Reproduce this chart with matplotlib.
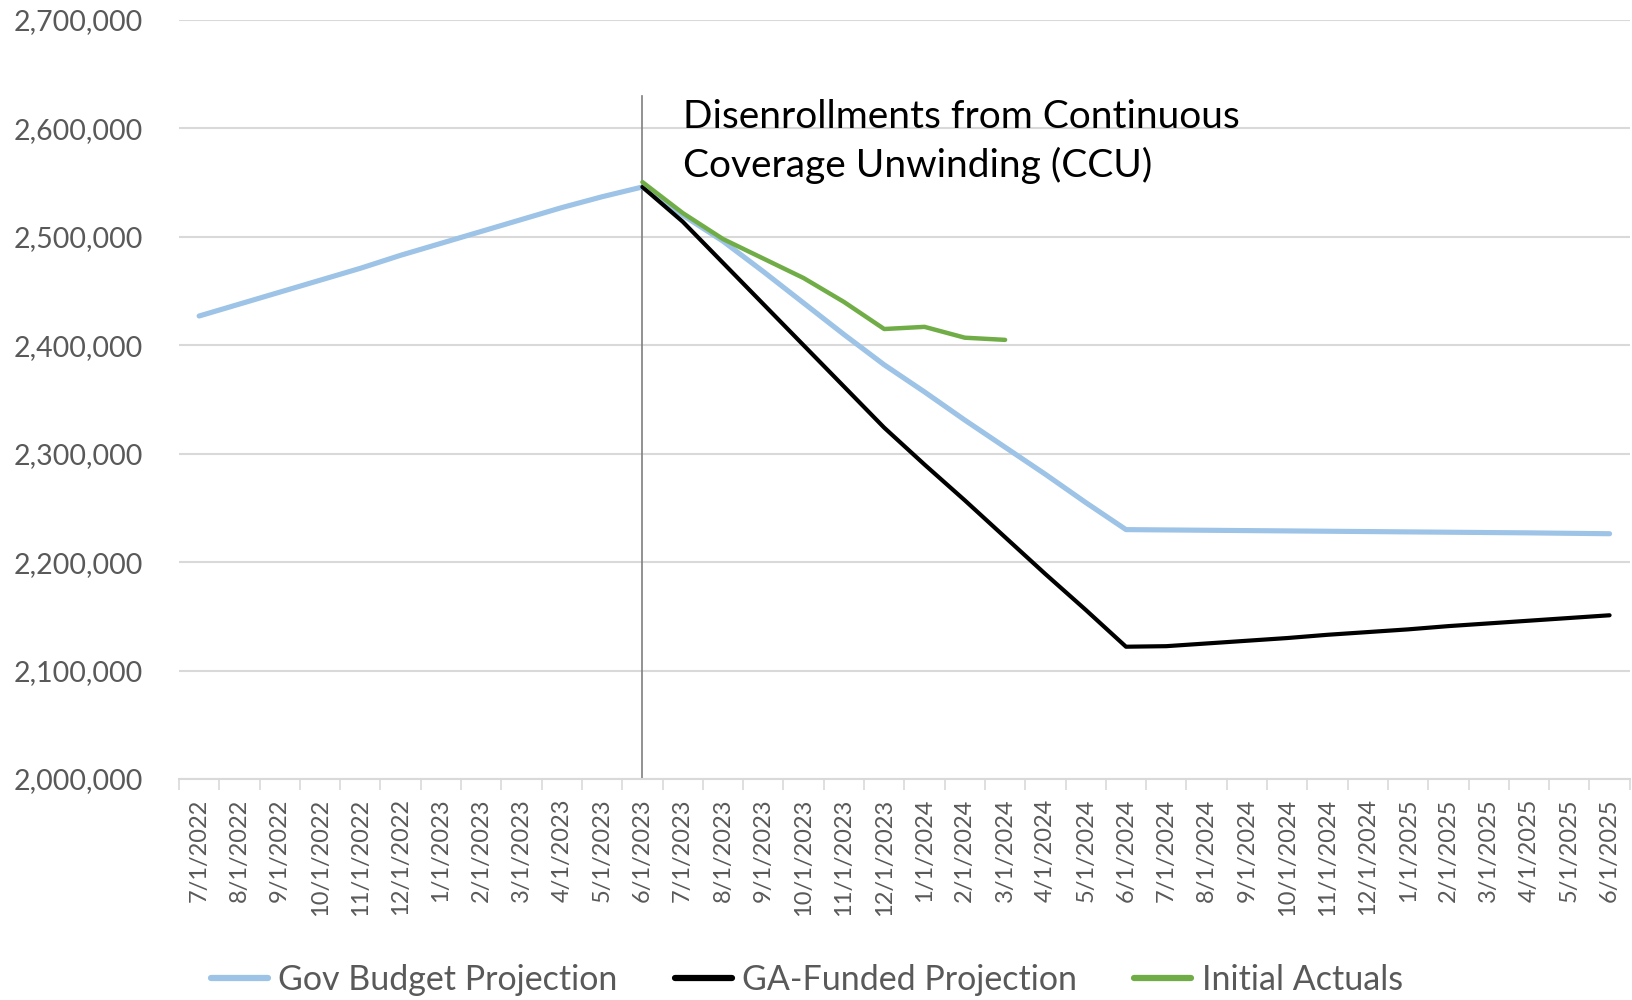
import numpy as np
import matplotlib
matplotlib.use('Agg')
import matplotlib.pyplot as plt
from matplotlib.ticker import FuncFormatter

# monthly categories, 7/1/2022 .. 6/1/2025
months = []
for i in range(36):
    m = (7 + i - 1) % 12 + 1
    y = 2022 + (7 + i - 1) // 12
    months.append('%d/1/%d' % (m, y))

gov_budget = [2427000, 2438000, 2449000, 2460000, 2471000, 2483000, 2494000, 2505000,
              2516000, 2527000, 2537000, 2546000, 2520000, 2496000, 2468000, 2439000,
              2410000, 2382000, 2357000, 2331000, 2306000, 2281000, 2255000, 2230000,
              2229700, 2229400, 2229100, 2228800, 2228500, 2228200, 2227900, 2227600,
              2227300, 2227000, 2226600, 2226200]
ga_funded = [None] * 11 + [2546000, 2514000, 2476000, 2438000, 2400000, 2362000, 2324000,
                           2290000, 2257000, 2223000, 2189000, 2156000, 2122000,
                           2122500, 2125000, 2127500, 2130000, 2133000, 2135500,
                           2138000, 2141000, 2143500, 2146000, 2148500, 2151000]
# actuals only reported through 3/1/2024
actuals = [None] * 11 + [2550500, 2522000, 2498000, 2480000, 2462000, 2440000, 2415000,
                         2417000, 2407000, 2405000]

series = [
    ('Gov Budget Projection', gov_budget, '#9DC3E6', 3.7),
    ('GA-Funded Projection', ga_funded, '#000000', 3.0),
    ('Initial Actuals', actuals, '#70AD47', 3.2),
]

FONT = ['Lato', 'DejaVu Sans']
GRAY = '#595959'

fig = plt.figure(figsize=(16.33, 10), dpi=100)
ax = fig.add_axes([0.1096, 0.221, 0.8884, 0.759])

x = np.arange(len(months))
for name, vals, color, lw in series:
    v = np.array([np.nan if a is None else a for a in vals], dtype=float)
    ax.plot(x[:len(v)], v, color=color, lw=lw, label=name, solid_capstyle='round',
            solid_joinstyle='round', zorder=3)

ax.set_xlim(-0.5, len(months) - 0.5)
ax.set_ylim(2000000, 2700000)
ax.set_yticks(np.arange(2000000, 2700001, 100000))
ax.yaxis.set_major_formatter(FuncFormatter(lambda v, p: '{:,.0f}'.format(v)))
ax.yaxis.grid(True, color='#D9D9D9', lw=1.5)
ax.set_axisbelow(True)
ax.tick_params(axis='y', length=0, pad=26, labelsize=20.5, labelcolor=GRAY)
for lab in ax.get_yticklabels():
    lab.set_family(FONT)

ax.set_xticks(x)
ax.set_xticklabels(months, rotation=90, fontsize=17, color=GRAY, family=FONT)
ax.set_xticks(np.arange(-0.5, len(months)), minor=True)
ax.tick_params(axis='x', which='major', length=0, pad=14)
ax.tick_params(axis='x', which='minor', length=8, width=1.2, color='#D9D9D9')

for s in ['top', 'right', 'left']:
    ax.spines[s].set_visible(False)
ax.spines['bottom'].set_color('#D9D9D9')
ax.spines['bottom'].set_linewidth(1.5)

# CCU start marker
ax.axvline(11, ymax=0.9, color='#7F7F7F', lw=1.2, zorder=2)
ax.text(12.0, 2588000, 'Disenrollments from Continuous\nCoverage Unwinding (CCU)',
        fontsize=28, family=FONT, color='black', va='center', ha='left', linespacing=1.42)

leg = fig.legend(loc='center', bbox_to_anchor=(0.494, 0.02), ncol=3, frameon=False,
                 prop={'family': FONT, 'size': 24.5}, handlelength=1.68, columnspacing=1.68,
                 handletextpad=0.3)
for t in leg.get_texts():
    t.set_color(GRAY)
for h in leg.get_lines():
    h.set_linewidth(4.5)

fig.savefig('out.png', dpi=100)
